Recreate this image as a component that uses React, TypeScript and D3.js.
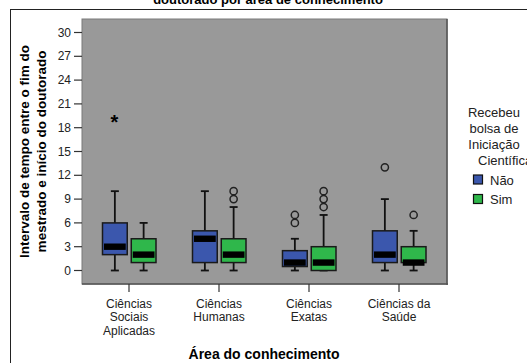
import React from "react";
import * as d3 from "d3";

const categoryLabels: string[][] = [
  ["Ciências", "Sociais", "Aplicadas"],
  ["Ciências", "Humanas"],
  ["Ciências", "Exatas"],
  ["Ciências da", "Saúde"],
];
const categories = ["Sociais", "Humanas", "Exatas", "Saude"];
const groups = ["Não", "Sim"];
const yTicks = [0, 3, 6, 9, 12, 15, 18, 21, 24, 27, 30];

// Não
const naoMin = [0, 0, 0, 0];
const naoQ1 = [2, 1, 0.5, 1];
const naoMed = [3, 4, 1, 2];
const naoQ3 = [6, 5, 2.5, 5];
const naoMax = [10, 10, 4, 9];
const naoOutliers = [[], [], [6, 7], [13]];
const naoExtremes = [[19], [], [], []];
// Sim
const simMin = [0, 0, 0, 0];
const simQ1 = [1, 1, 0, 1];
const simMed = [2, 2, 1, 1];
const simQ3 = [4, 4, 3, 3];
const simMax = [6, 8, 7, 5];
const simOutliers = [[], [9, 10], [8, 9, 10], [7]];
const simExtremes = [[], [], [], []];

const colors = ["#3b57ad", "#2fb74b"];

const series = [
  { min: naoMin, q1: naoQ1, med: naoMed, q3: naoQ3, max: naoMax, out: naoOutliers, ext: naoExtremes },
  { min: simMin, q1: simQ1, med: simMed, q3: simQ3, max: simMax, out: simOutliers, ext: simExtremes },
];

const FONT = "'Liberation Sans', Arial, sans-serif";

export default function App() {
  const W = 527, H = 363;
  const plot = { x0: 82, x1: 447, y0: 19, y1: 284 };
  const x = d3.scaleBand<string>().domain(categories).range([84, 444]).padding(0);
  const inner = d3.scaleBand<string>().domain(groups).range([-26.5, 27]).paddingInner(0.14);
  const y = d3.scaleLinear().domain([0, 30]).range([270.5, 32.5]);
  const bw = inner.bandwidth();
  const capW = 8;

  return (
    <svg width={W} height={H} style={{ position: "absolute", left: 0, top: 0, background: "#fff" }} fontFamily={FONT}>
      {/* clipped title */}
      <text x={268} y={4} textAnchor="middle" fontSize={13} fontWeight="bold" fill="#000">
        doutorado por área de conhecimento
      </text>
      {/* frame */}
      <line x1={10} x2={W} y1={9.5} y2={9.5} stroke="#222" strokeWidth={1} />
      <line x1={10.5} x2={10.5} y1={9} y2={H} stroke="#222" strokeWidth={1} />

      {/* plot background */}
      <rect x={plot.x0} y={plot.y0} width={plot.x1 - plot.x0} height={plot.y1 - plot.y0} fill="#999999" stroke="#7a7a7a" strokeWidth={1} />
      <line x1={plot.x1} x2={plot.x1} y1={plot.y0} y2={plot.y1 + 1} stroke="#555" strokeWidth={1.5} />
      <line x1={plot.x0} x2={plot.x1 + 1} y1={plot.y1} y2={plot.y1} stroke="#555" strokeWidth={1.5} />

      {/* y ticks */}
      {yTicks.map((t) => (
        <g key={t}>
          <line x1={74} x2={plot.x0} y1={y(t)} y2={y(t)} stroke="#333" strokeWidth={1.2} />
          <text x={71} y={y(t) + 4} textAnchor="end" fontSize={12} fill="#222">
            {t}
          </text>
        </g>
      ))}

      {/* x ticks and labels */}
      {categories.map((c, i) => {
        const cx = x(c)! + x.bandwidth() / 2;
        return (
          <g key={c}>
            <line x1={cx} x2={cx} y1={plot.y1} y2={292} stroke="#333" strokeWidth={1.2} />
            {categoryLabels[i].map((l, j) => (
              <text key={j} x={cx} y={307.5 + j * 13.5} textAnchor="middle" fontSize={12} fill="#222">
                {l}
              </text>
            ))}
          </g>
        );
      })}

      {/* boxes */}
      {categories.map((c, i) => {
        const cx = x(c)! + x.bandwidth() / 2;
        return groups.map((g, k) => {
          const s = series[k];
          const bx = cx + inner(g)!;
          const mx = bx + bw / 2;
          return (
            <g key={c + g}>
              <line x1={mx} x2={mx} y1={y(s.q3[i])} y2={y(s.max[i])} stroke="#111" strokeWidth={1.8} />
              <line x1={mx} x2={mx} y1={y(s.q1[i])} y2={y(s.min[i])} stroke="#111" strokeWidth={1.8} />
              <line x1={mx - capW / 2} x2={mx + capW / 2} y1={y(s.max[i])} y2={y(s.max[i])} stroke="#111" strokeWidth={1.8} />
              <line x1={mx - capW / 2} x2={mx + capW / 2} y1={y(s.min[i])} y2={y(s.min[i])} stroke="#111" strokeWidth={1.8} />
              <rect x={bx} y={y(s.q3[i])} width={bw} height={y(s.q1[i]) - y(s.q3[i])} fill={colors[k]} stroke="#1a1a1a" strokeWidth={1.5} />
              <rect x={bx + 1.5} y={y(s.med[i]) - 3.2} width={bw - 3} height={6.4} fill="#000" />
              {s.out[i].map((v, j) => (
                <circle key={j} cx={mx} cy={y(v)} r={3.6} fill="none" stroke="#222" strokeWidth={1.5} />
              ))}
              {s.ext[i].map((v, j) => (
                <text key={j} x={mx - 0.5} y={y(v) + 9} textAnchor="middle" fontSize={20} fontWeight="bold" fill="#000">
                  *
                </text>
              ))}
            </g>
          );
        });
      })}

      {/* y axis title */}
      <text transform={`translate(28.5,${(plot.y0 + plot.y1) / 2}) rotate(-90)`} textAnchor="middle" fontSize={13.5} fontWeight="bold" fill="#000">
        Intervalo de tempo entre o fim do
      </text>
      <text transform={`translate(45.5,${(plot.y0 + plot.y1) / 2}) rotate(-90)`} textAnchor="middle" fontSize={13.5} fontWeight="bold" fill="#000">
        mestrado e início do doutorado
      </text>

      {/* x axis title */}
      <text x={264} y={359} textAnchor="middle" fontSize={14} fontWeight="bold" fill="#000">
        Área do conhecimento
      </text>

      {/* legend */}
      {["Recebeu", "bolsa de", "Iniciação"].map((l, j) => (
        <text key={l} x={494} y={117 + j * 16} textAnchor="middle" fontSize={13} fill="#222">
          {l}
        </text>
      ))}
      <text x={478} y={165} textAnchor="start" fontSize={13} fill="#222">
        Científica?
      </text>
      {groups.map((g, k) => (
        <g key={g}>
          <rect x={473.5} y={175 + k * 19.5} width={9} height={9} fill={colors[k]} stroke="#111" strokeWidth={1.2} />
          <text x={490} y={184.5 + k * 19.5} fontSize={13} fill="#222">
            {g}
          </text>
        </g>
      ))}
    </svg>
  );
}
